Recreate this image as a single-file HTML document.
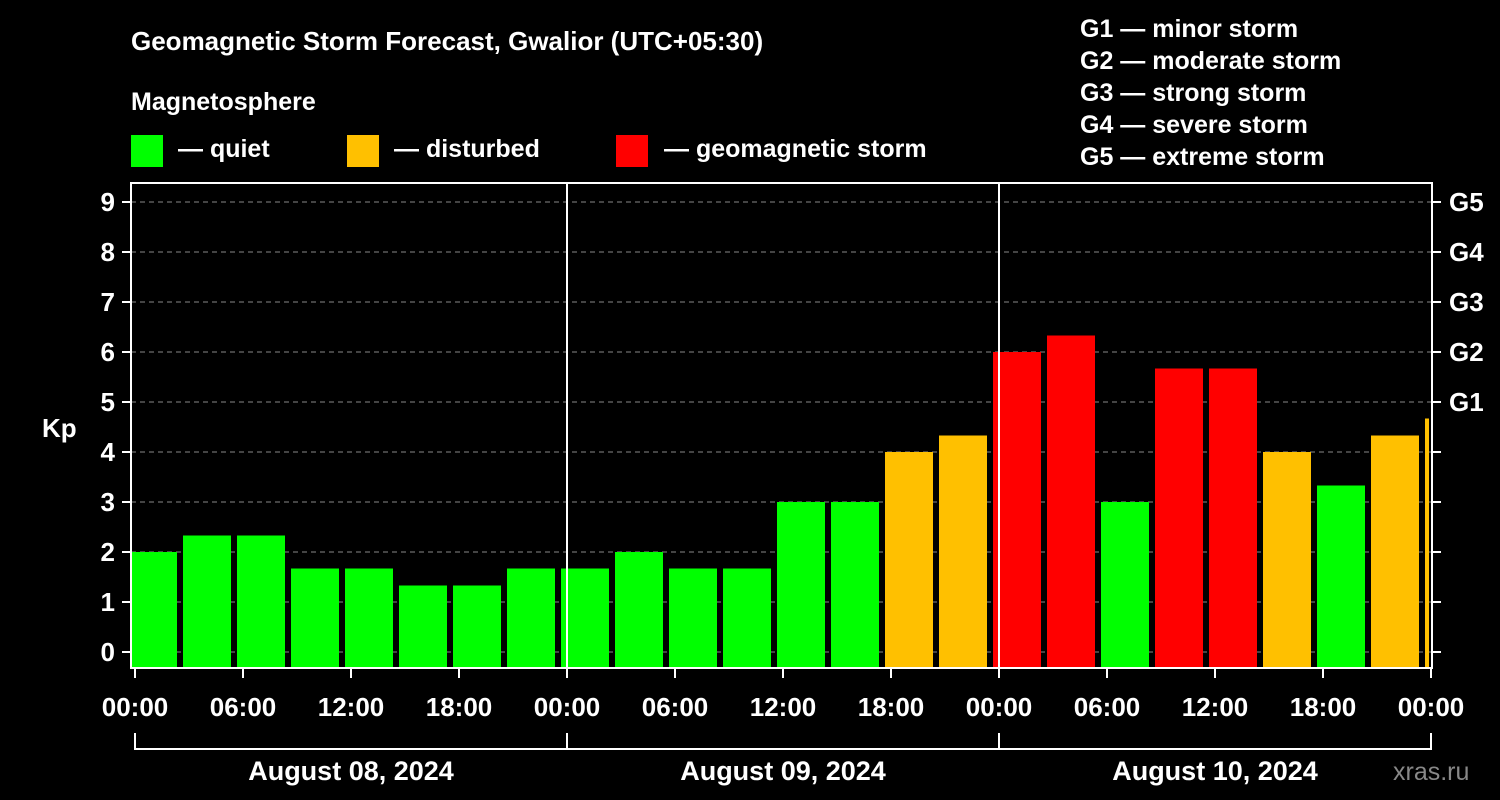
<!DOCTYPE html>
<html><head><meta charset="utf-8"><style>
body{margin:0;background:#000;}
svg{display:block;font-family:"Liberation Sans",Arial,sans-serif;font-weight:bold;}
</style></head><body>
<svg id="c" width="1500" height="800" viewBox="0 0 1500 800">
<rect width="1500" height="800" fill="#000"/>
<text x="131" y="50" fill="#fff" font-size="26">Geomagnetic Storm Forecast, Gwalior (UTC+05:30)</text>
<text x="131" y="110" fill="#fff" font-size="25">Magnetosphere</text>
<g><rect x="131" y="135" width="32" height="32" fill="#00ff00"/><text x="178" y="157" fill="#fff" font-size="25">— quiet</text></g>
<g><rect x="347" y="135" width="32" height="32" fill="#ffc000"/><text x="394" y="157" fill="#fff" font-size="25">— disturbed</text></g>
<g><rect x="616" y="135" width="32" height="32" fill="#ff0000"/><text x="664" y="157" fill="#fff" font-size="25">— geomagnetic storm</text></g>
<g fill="#fff" font-size="25">
<text x="1080" y="37">G1 — minor storm</text>
<text x="1080" y="69">G2 — moderate storm</text>
<text x="1080" y="101">G3 — strong storm</text>
<text x="1080" y="133">G4 — severe storm</text>
<text x="1080" y="165">G5 — extreme storm</text>
</g>
<text x="42" y="437" fill="#fff" font-size="26">Kp</text>
<text x="1393" y="780" fill="#888" font-size="25" font-weight="normal">xras.ru</text>
<g id="plot"></g>
</svg>
<script>
const kpValues=[2,2.33,2.33,1.67,1.67,1.33,1.33,1.67,1.67,2,1.67,1.67,3,3,4,4.33,6,6.33,3,5.67,5.67,4,3.33,4.33,4.67];
const barStartHours=[];for(let i=0;i<kpValues.length;i++)barStartHours.push(3*i+0.5);
const yTicks=[0,1,2,3,4,5,6,7,8,9];
const gLabels=[[5,"G1"],[6,"G2"],[7,"G3"],[8,"G4"],[9,"G5"]];
const xTickLabels=["00:00","06:00","12:00","18:00","00:00","06:00","12:00","18:00","00:00","06:00","12:00","18:00","00:00"];
const dayLabels=["August 08, 2024","August 09, 2024","August 10, 2024"];
const L=131,R=1432,T=183,B=668,X0=135,PX_H=18;
const x=h=>X0+h*PX_H;
const y=v=>652-50*v;
const NS="http://www.w3.org/2000/svg";
const g=document.getElementById('plot');
function mk(t,a){const e=document.createElementNS(NS,t);for(const k in a)e.setAttribute(k,a[k]);g.appendChild(e);return e;}
yTicks.forEach(v=>{
 const l=mk('line',{x1:L,x2:R,y1:y(v),y2:y(v),stroke:'#888','stroke-dasharray':'5,4','stroke-width':1});
 
 
 const t=mk('line',{x1:L-9,x2:L,y1:y(v),y2:y(v),stroke:'#fff','stroke-width':2});
 
 
 const t2=mk('line',{x1:R,x2:R+9,y1:y(v),y2:y(v),stroke:'#fff','stroke-width':2});
 
 
 const tx=mk('text',{x:L-16,y:y(v)+9,fill:'#fff','font-size':26,'text-anchor':'end'});tx.textContent=v;
 
 
});
gLabels.forEach(([v,s])=>{
 const tx=mk('text',{x:1449,y:y(v)+9,fill:'#fff','font-size':26});tx.textContent=s;
 
 
});
kpValues.forEach((v,i)=>{
 let x1=Math.max(x(barStartHours[i])-15,L+1),x2=Math.min(x(barStartHours[i])+33,R-3);
 const c=v>=5?'#ff0000':(v>=4?'#ffc000':'#00ff00');
 const r=mk('rect',{x:x1,y:y(v),width:x2-x1,height:B-y(v),fill:c});
 
 
});
[1,2].forEach(d=>{const l=mk('line',{x1:x(24*d),x2:x(24*d),y1:T,y2:B,stroke:'#fff','stroke-width':2});
 
 });
const fr=mk('rect',{x:L,y:T,width:R-L,height:B-T,fill:'none',stroke:'#fff','stroke-width':2});


xTickLabels.forEach((s,i)=>{
 const xx=x(6*i);
 const t=mk('line',{x1:xx,x2:xx,y1:B,y2:B+10,stroke:'#fff','stroke-width':2});
 
 
 const tx=mk('text',{x:xx,y:716,fill:'#fff','font-size':26,'text-anchor':'middle'});tx.textContent=s;
 
 
});
const br=mk('path',{d:`M${x(0)} 733V749H${x(72)}V733`+` M${x(24)} 733V749 M${x(48)} 733V749`,stroke:'#fff','stroke-width':2,fill:'none'});


dayLabels.forEach((s,i)=>{
 const tx=mk('text',{x:x(24*i+12),y:780,fill:'#fff','font-size':27,'text-anchor':'middle'});tx.textContent=s;
 
 
});
</script>
</body></html>
